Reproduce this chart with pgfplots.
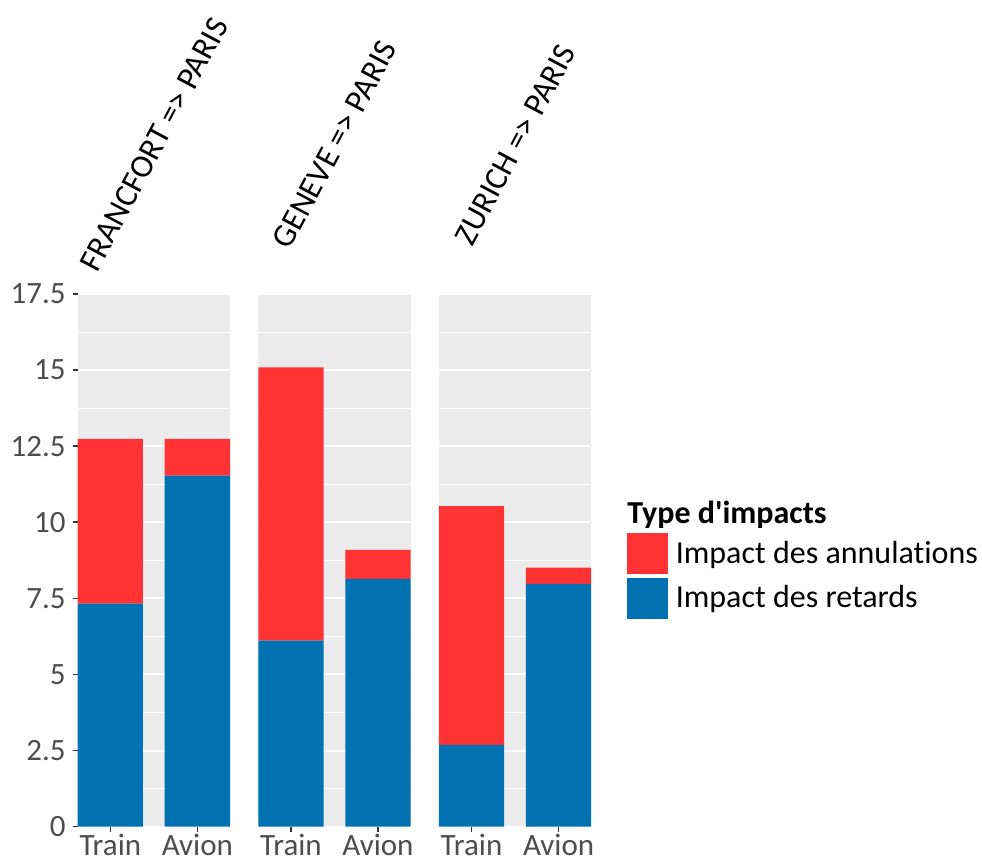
\documentclass[border=0pt]{standalone}
\usepackage{pgfplots}
\pgfplotsset{compat=1.18}
\usepackage{fontspec}
\setmainfont{Carlito}[Ligatures={NoCommon}]
\definecolor{bggray}{HTML}{EBEBEB}
\definecolor{redc}{HTML}{FF3333}
\definecolor{bluec}{HTML}{0072B2}
\definecolor{tickc}{HTML}{4D4D4D}
\definecolor{tickm}{HTML}{333333}
\pgfplotsset{
  panel/.style={
    scale only axis, width=76.15pt, height=266.35pt,
    anchor=south west,
    xmin=0.625, xmax=2.375, ymin=0, ymax=17.5,
    ybar stacked, bar width=0.75,
    axis background/.style={fill=bggray},
    axis line style={draw=none},
    xtick={1,2}, xticklabels={Train,Avion},
    ytick={0,2.5,5,7.5,10,12.5,15,17.5},
    minor y tick num=1,
    ymajorgrids, yminorgrids,
    major grid style={white, line width=1pt},
    minor grid style={white, line width=0.5pt},
    tick align=outside, tick pos=left,
    major tick length=2.5pt, minor tick length=0pt,
    tick style={tickm, line width=0.8pt},
    ticklabel style={font=\fontsize{15.5}{18}\selectfont, text=tickc},
    xticklabel style={yshift=2.5pt},
    clip=false,
  },
  noylabels/.style={yticklabels={}, ytick style={draw=none}},
}
\begin{document}
\begin{tikzpicture}
\path[use as bounding box] (-38.85pt,-18.15pt) rectangle (452.15pt,413.35pt);
% FRANCFORT
\begin{axis}[panel, at={(0pt,0pt)},
  yticklabels={0,2.5,5,7.5,10,12.5,15,17.5}]
\addplot[fill=bluec, draw=none] coordinates {(1,7.33) (2,11.53)};
\addplot[fill=redc, draw=none] coordinates {(1,5.41) (2,1.21)};
\node[rotate=62, font=\fontsize{16.3}{19}\selectfont] at (rel axis cs:0.5,1.28) {FRANCFORT => PARIS};
\end{axis}
% GENEVE
\begin{axis}[panel, noylabels, at={(90.3pt,0pt)}]
\addplot[fill=bluec, draw=none] coordinates {(1,6.11) (2,8.14)};
\addplot[fill=redc, draw=none] coordinates {(1,8.98) (2,0.95)};
\node[rotate=62, font=\fontsize{16.3}{19}\selectfont] at (rel axis cs:0.5,1.28) {GENEVE => PARIS};
\end{axis}
% ZURICH
\begin{axis}[panel, noylabels, at={(180.6pt,0pt)},
  legend style={at={(rel axis cs:1.235,0.551)}, anchor=north west,
    draw=none, fill=none, inner sep=0pt, outer sep=0pt,
    row sep=2pt, column sep=4pt,
    font=\fontsize{16}{19}\selectfont,
    nodes={inner sep=0pt}},
  legend cell align=left]
\addlegendimage{legend image code/.code={\fill[redc] (0pt,-10pt) rectangle (20pt,10pt);}}
\addlegendentry{Impact des annulations}
\addlegendimage{legend image code/.code={\fill[bluec] (0pt,-10pt) rectangle (20pt,10pt);}}
\addlegendentry{Impact des retards}
\addplot[fill=bluec, draw=none] coordinates {(1,2.69) (2,7.98)};
\addplot[fill=redc, draw=none] coordinates {(1,7.84) (2,0.53)};
\node[rotate=62, font=\fontsize{16.3}{19}\selectfont] at (rel axis cs:0.5,1.28) {ZURICH => PARIS};
\node[anchor=base west, inner sep=0pt, font=\bfseries\fontsize{16}{19}\selectfont] at (rel axis cs:1.235,0.570) {Type d\textquotesingle impacts};
\end{axis}
\end{tikzpicture}
\end{document}
